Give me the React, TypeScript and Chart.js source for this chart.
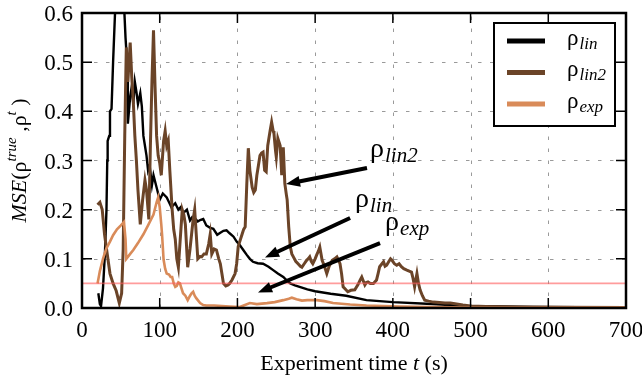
import React, { useEffect, useRef } from "react";
import { Chart, registerables } from "chart.js";

Chart.register(...registerables);

const FONT = '"Liberation Serif", serif';

// ---- data (experiment time t in s, MSE values) ----
const linT = [21, 23, 24.5, 27, 29.5, 31.5, 32.5, 33, 35, 36, 38, 40, 42.5, 45, 48, 51, 54, 56, 58, 59, 62, 64, 66, 68, 70, 72, 75, 77, 79, 81, 83, 85, 87, 90, 92, 96, 100, 104, 109, 112, 115, 120, 124, 127, 130, 135, 139, 142, 145, 149, 152, 156, 160, 165, 169, 174, 178, 182, 186, 190, 195, 199, 203, 208, 212, 216, 220, 226, 233, 240, 246, 252, 259, 264, 268, 274, 280, 290, 300, 320, 340, 366, 400, 450, 495, 540, 580, 640, 700];
const linV = [0.03, 0.008, 0.004, 0.04, 0.11, 0.2, 0.3, 0.34, 0.35, 0.4, 0.405, 0.5, 0.6, 0.75, 0.85, 0.8, 0.62, 0.55, 0.5, 0.375, 0.43, 0.45, 0.415, 0.46, 0.44, 0.415, 0.437, 0.41, 0.35, 0.33, 0.31, 0.28, 0.29, 0.25, 0.27, 0.245, 0.22, 0.233, 0.225, 0.215, 0.205, 0.213, 0.2, 0.205, 0.193, 0.2, 0.178, 0.185, 0.183, 0.176, 0.179, 0.181, 0.168, 0.163, 0.161, 0.149, 0.153, 0.157, 0.158, 0.152, 0.145, 0.135, 0.128, 0.117, 0.108, 0.1, 0.094, 0.091, 0.09, 0.084, 0.077, 0.07, 0.063, 0.055, 0.05, 0.046, 0.043, 0.038, 0.034, 0.029, 0.025, 0.016, 0.012, 0.008, 0.004, 0.003, 0.002, 0.0015, 0.001];

const lin2T = [20, 23, 26, 29, 32, 36, 40, 44, 48, 51, 53, 55, 57, 59, 62, 64, 66, 68, 70, 72, 75, 78, 81, 83, 86, 88, 90, 92, 94, 96, 98, 100, 102, 105, 107, 109, 111, 113, 116, 118, 120, 122, 124, 126, 129, 131, 133, 136, 139, 141, 143, 145, 147, 149, 152, 154, 157, 160, 163, 165, 167, 170, 173, 176, 178, 180, 182, 185, 188, 190, 193, 197, 199, 201, 204, 206, 208, 210, 212, 214, 216, 219, 221, 223, 225, 227, 229, 231, 233, 235, 237, 239, 240, 242, 244, 246, 247, 249, 250, 252, 254, 255, 257, 259, 261, 263, 264, 266, 268, 270, 272, 275, 278, 281, 283, 286, 289, 291, 293, 295, 297, 300, 302, 304, 306, 309, 312, 315, 318, 322, 325, 328, 332, 334, 336, 339, 342, 346, 351, 355, 358, 360, 362, 364, 366, 368, 371, 375, 379, 381, 383, 386, 388, 390, 392, 395, 397, 399, 402, 405, 408, 411, 414, 418, 421, 424, 426, 428, 431, 433, 435, 438, 441, 446, 452, 460, 467, 474, 482, 490, 500, 520, 560, 620, 700];
const lin2V = [0.21, 0.215, 0.2, 0.15, 0.115, 0.07, 0.05, 0.035, 0.01, 0.03, 0.12, 0.35, 0.53, 0.46, 0.54, 0.47, 0.42, 0.35, 0.3, 0.24, 0.17, 0.22, 0.26, 0.24, 0.18, 0.33, 0.46, 0.565, 0.45, 0.35, 0.31, 0.295, 0.27, 0.34, 0.36, 0.33, 0.34, 0.28, 0.2, 0.16, 0.14, 0.1, 0.083, 0.13, 0.2, 0.19, 0.17, 0.083, 0.12, 0.15, 0.18, 0.2, 0.15, 0.1, 0.105, 0.104, 0.11, 0.11, 0.13, 0.15, 0.11, 0.12, 0.118, 0.1, 0.09, 0.07, 0.05, 0.045, 0.047, 0.05, 0.057, 0.07, 0.09, 0.125, 0.14, 0.15, 0.16, 0.165, 0.25, 0.325, 0.28, 0.245, 0.235, 0.24, 0.27, 0.29, 0.31, 0.315, 0.317, 0.28, 0.277, 0.33, 0.34, 0.36, 0.378, 0.36, 0.355, 0.32, 0.307, 0.345, 0.335, 0.33, 0.27, 0.327, 0.253, 0.23, 0.22, 0.165, 0.125, 0.11, 0.104, 0.095, 0.09, 0.085, 0.083, 0.09, 0.097, 0.1, 0.104, 0.095, 0.09, 0.1, 0.108, 0.115, 0.124, 0.097, 0.085, 0.07, 0.085, 0.097, 0.1, 0.104, 0.09, 0.07, 0.043, 0.038, 0.033, 0.036, 0.037, 0.047, 0.057, 0.063, 0.055, 0.047, 0.052, 0.053, 0.05, 0.05, 0.057, 0.07, 0.084, 0.09, 0.094, 0.085, 0.087, 0.095, 0.1, 0.097, 0.09, 0.087, 0.09, 0.084, 0.08, 0.077, 0.075, 0.073, 0.06, 0.043, 0.07, 0.05, 0.037, 0.025, 0.016, 0.014, 0.012, 0.011, 0.01, 0.01, 0.008, 0.006, 0.004, 0.003, 0.002, 0.0015, 0.001];

const expT = [20, 23, 27, 31, 36, 40, 45, 50, 54, 56, 57, 62, 66, 72, 79, 85, 92, 96, 98, 100, 102, 103, 105, 107, 109, 112, 114, 116, 118, 120, 122, 124, 126, 128, 130, 133, 136, 139, 141, 143, 145, 147, 149, 152, 156, 160, 170, 180, 190, 203, 208, 216, 225, 238, 248, 259, 266, 270, 276, 283, 290, 302, 312, 323, 345, 366, 409, 450, 500, 600, 700];
const expV = [0.05, 0.075, 0.1, 0.12, 0.135, 0.148, 0.16, 0.168, 0.175, 0.14, 0.1, 0.11, 0.118, 0.132, 0.15, 0.168, 0.19, 0.215, 0.225, 0.205, 0.17, 0.15, 0.098, 0.08, 0.07, 0.068, 0.063, 0.063, 0.05, 0.043, 0.045, 0.052, 0.05, 0.04, 0.03, 0.025, 0.016, 0.025, 0.03, 0.033, 0.025, 0.02, 0.016, 0.01, 0.006, 0.005, 0.005, 0.004, 0.003, 0.002, 0.005, 0.01, 0.008, 0.01, 0.012, 0.016, 0.019, 0.021, 0.018, 0.015, 0.016, 0.016, 0.014, 0.01, 0.007, 0.005, 0.003, 0.002, 0.001, 0.001, 0.0008];

const thresholdT = [0, 700];
const thresholdV = [0.05, 0.05];

const xTickMin = 0;
const xTickMax = 700;
const xTickStep = 100;
const yTickMin = 0;
const yTickMax = 0.6;
const yTickStep = 0.1;

const COLORS = { lin: "#000000", lin2: "#6b4428", exp: "#d98b59", thr: "rgba(255,90,90,0.6)" };

const legendItems = [
  { sub: "lin", color: COLORS.lin },
  { sub: "lin2", color: COLORS.lin2 },
  { sub: "exp", color: COLORS.exp },
];

// annotation anchor points in data units
const notes = [
  { sub: "lin2", textT: 370.6, textY: 0.307, tailT: 366.7, tailY: 0.2846, tipT: 262.5, tipY: 0.252 },
  { sub: "lin", textT: 351.3, textY: 0.205, tailT: 345, tailY: 0.183, tipT: 235.5, tipY: 0.1026 },
  { sub: "exp", textT: 390, textY: 0.1585, tailT: 383.5, tailY: 0.132, tipT: 226.5, tipY: 0.0315 },
];

const toXY = (t: number[], v: number[]) => t.map((x, i) => ({ x, y: v[i] }));

function drawRho(ctx: CanvasRenderingContext2D, x: number, y: number, sub: string, big: number, small: number, drop: number) {
  ctx.textAlign = "left";
  ctx.textBaseline = "alphabetic";
  ctx.fillStyle = "#000";
  ctx.font = `${big}px ${FONT}`;
  ctx.fillText("ρ", x, y);
  const w = ctx.measureText("ρ").width;
  ctx.font = `italic ${small}px ${FONT}`;
  ctx.fillText(sub, x + w + 1, y + drop);
}

type Part = { t: string; italic?: boolean; size: number; dy?: number };
function drawParts(ctx: CanvasRenderingContext2D, parts: Part[], cx: number, y: number) {
  let total = 0;
  const widths: number[] = [];
  for (const p of parts) {
    ctx.font = `${p.italic ? "italic " : ""}${p.size}px ${FONT}`;
    const w = ctx.measureText(p.t).width;
    widths.push(w);
    total += w;
  }
  let x = cx - total / 2;
  ctx.textAlign = "left";
  ctx.textBaseline = "alphabetic";
  ctx.fillStyle = "#000";
  parts.forEach((p, i) => {
    ctx.font = `${p.italic ? "italic " : ""}${p.size}px ${FONT}`;
    ctx.fillText(p.t, x, y + (p.dy || 0));
    x += widths[i];
  });
}

function arrow(ctx: CanvasRenderingContext2D, x0: number, y0: number, x1: number, y1: number) {
  const dx = x1 - x0, dy = y1 - y0;
  const len = Math.hypot(dx, dy);
  const ux = dx / len, uy = dy / len;
  const L = 14, W = 11;
  const bx = x1 - ux * L, by = y1 - uy * L;
  ctx.strokeStyle = "#000";
  ctx.fillStyle = "#000";
  ctx.lineWidth = 4;
  ctx.setLineDash([]);
  ctx.beginPath();
  ctx.moveTo(x0, y0);
  ctx.lineTo(bx + ux * 2, by + uy * 2);
  ctx.stroke();
  ctx.beginPath();
  ctx.moveTo(x1, y1);
  ctx.lineTo(bx - uy * W / 2, by + ux * W / 2);
  ctx.lineTo(bx + uy * W / 2, by - ux * W / 2);
  ctx.closePath();
  ctx.fill();
}

const decor = {
  id: "decor",
  beforeDatasetsDraw(chart: any) {
    const { ctx, chartArea: a, scales } = chart;
    const xs = scales.x, ys = scales.y;
    ctx.save();
    ctx.strokeStyle = "#9a9a9a";
    ctx.lineWidth = 1;
    ctx.setLineDash([3.5, 8.5]);
    for (let v = xTickMin + xTickStep; v < xTickMax; v += xTickStep) {
      const px = Math.round(xs.getPixelForValue(v)) + 0.5;
      ctx.beginPath();
      ctx.moveTo(px, a.bottom);
      ctx.lineTo(px, a.top);
      ctx.stroke();
    }
    for (let i = 1; i < Math.round((yTickMax - yTickMin) / yTickStep); i++) {
      const py = Math.round(ys.getPixelForValue(yTickMin + i * yTickStep)) + 0.5;
      ctx.beginPath();
      ctx.moveTo(a.left, py);
      ctx.lineTo(a.right, py);
      ctx.stroke();
    }
    ctx.restore();
  },
  afterDatasetsDraw(chart: any) {
    const { ctx, chartArea: a, scales } = chart;
    const xs = scales.x, ys = scales.y;
    ctx.save();
    ctx.setLineDash([]);
    ctx.strokeStyle = "#000";
    ctx.fillStyle = "#000";
    ctx.lineWidth = 1.5;
    const TL = 10;
    const nY = Math.round((yTickMax - yTickMin) / yTickStep);
    for (let v = xTickMin; v <= xTickMax; v += xTickStep) {
      const px = xs.getPixelForValue(v);
      ctx.beginPath();
      ctx.moveTo(px, a.bottom);
      ctx.lineTo(px, a.bottom - TL);
      ctx.moveTo(px, a.top);
      ctx.lineTo(px, a.top + TL);
      ctx.stroke();
    }
    for (let i = 0; i <= nY; i++) {
      const py = ys.getPixelForValue(yTickMin + i * yTickStep);
      ctx.beginPath();
      ctx.moveTo(a.left, py);
      ctx.lineTo(a.left + TL, py);
      ctx.moveTo(a.right, py);
      ctx.lineTo(a.right - TL, py);
      ctx.stroke();
    }
    ctx.lineWidth = 2.5;
    ctx.strokeRect(a.left, a.top, a.right - a.left, a.bottom - a.top);

    // tick labels
    ctx.font = `23px ${FONT}`;
    ctx.textBaseline = "alphabetic";
    ctx.textAlign = "center";
    for (let v = xTickMin; v <= xTickMax; v += xTickStep) {
      ctx.fillText(String(v), xs.getPixelForValue(v), a.bottom + 29);
    }
    ctx.textAlign = "right";
    for (let i = 0; i <= nY; i++) {
      const v = yTickMin + i * yTickStep;
      ctx.fillText(v.toFixed(1), a.left - 9, ys.getPixelForValue(v) + 8);
    }

    // legend
    const bw = 121, bh = 103;
    const bx = a.right - 11 - bw, by = a.top + 10;
    ctx.fillStyle = "#fff";
    ctx.fillRect(bx, by, bw, bh);
    ctx.lineWidth = 2;
    ctx.strokeStyle = "#000";
    ctx.strokeRect(bx, by, bw, bh);
    legendItems.forEach((it, i) => {
      const iy = by + 18 + i * 31.5;
      ctx.strokeStyle = it.color;
      ctx.lineWidth = 5;
      ctx.beginPath();
      ctx.moveTo(bx + 13, iy);
      ctx.lineTo(bx + 51, iy);
      ctx.stroke();
      drawRho(ctx, bx + 73, iy + 3.6, it.sub, 23, 17, 4);
    });

    // annotations
    notes.forEach((n) => {
      arrow(ctx, xs.getPixelForValue(n.tailT), ys.getPixelForValue(n.tailY), xs.getPixelForValue(n.tipT), ys.getPixelForValue(n.tipY));
      drawRho(ctx, xs.getPixelForValue(n.textT), ys.getPixelForValue(n.textY), n.sub, 28, 21, 5);
    });

    // axis titles
    const cx = (a.left + a.right) / 2;
    drawParts(ctx, [
      { t: "Experiment time ", size: 22 },
      { t: "t", italic: true, size: 22 },
      { t: " (s)", size: 22 },
    ], cx, 370);

    ctx.translate(26, (a.top + a.bottom) / 2);
    ctx.rotate(-Math.PI / 2);
    drawParts(ctx, [
      { t: "MSE", italic: true, size: 22 },
      { t: "(", size: 22 },
      { t: "ρ", size: 22 },
      { t: "true", italic: true, size: 15, dy: -10 },
      { t: " ,", size: 22 },
      { t: "ρ", size: 22 },
      { t: "t", italic: true, size: 15, dy: -10 },
      { t: " )", size: 22 },
    ], 0, 0);
    ctx.restore();
  },
};

export default function App() {
  const ref = useRef<HTMLCanvasElement | null>(null);
  useEffect(() => {
    document.body.style.margin = "0";
    const canvas = ref.current;
    if (!canvas) return;
    const chart = new Chart(canvas, {
      type: "line",
      data: {
        datasets: [
          { label: "lin", data: toXY(linT, linV), borderColor: COLORS.lin, borderWidth: 2.4, pointRadius: 0, tension: 0, fill: false, order: 4 },
          { label: "lin2", data: toXY(lin2T, lin2V), borderColor: COLORS.lin2, borderWidth: 3, pointRadius: 0, tension: 0, fill: false, order: 3 },
          { label: "exp", data: toXY(expT, expV), borderColor: COLORS.exp, borderWidth: 2.6, pointRadius: 0, tension: 0, fill: false, order: 2 },
          { label: "threshold", data: toXY(thresholdT, thresholdV), borderColor: COLORS.thr, borderWidth: 1.8, pointRadius: 0, fill: false, order: 1 },
        ] as any,
      },
      options: {
        animation: false,
        responsive: false,
        events: [],
        layout: { padding: { top: 13, right: 16, bottom: 0, left: 0 } },
        plugins: { legend: { display: false }, tooltip: { enabled: false } },
        scales: {
          x: {
            type: "linear",
            min: xTickMin,
            max: xTickMax,
            grid: { display: false },
            border: { display: false },
            ticks: { display: false, stepSize: xTickStep },
            afterFit: (s: any) => { s.height = 75; },
          },
          y: {
            type: "linear",
            min: yTickMin,
            max: yTickMax,
            grid: { display: false },
            border: { display: false },
            ticks: { display: false, stepSize: yTickStep },
            afterFit: (s: any) => { s.width = 82; },
          },
        },
      } as any,
      plugins: [decor],
    });
    return () => chart.destroy();
  }, []);
  return <canvas ref={ref} width={642} height={383} style={{ display: "block" }} />;
}
